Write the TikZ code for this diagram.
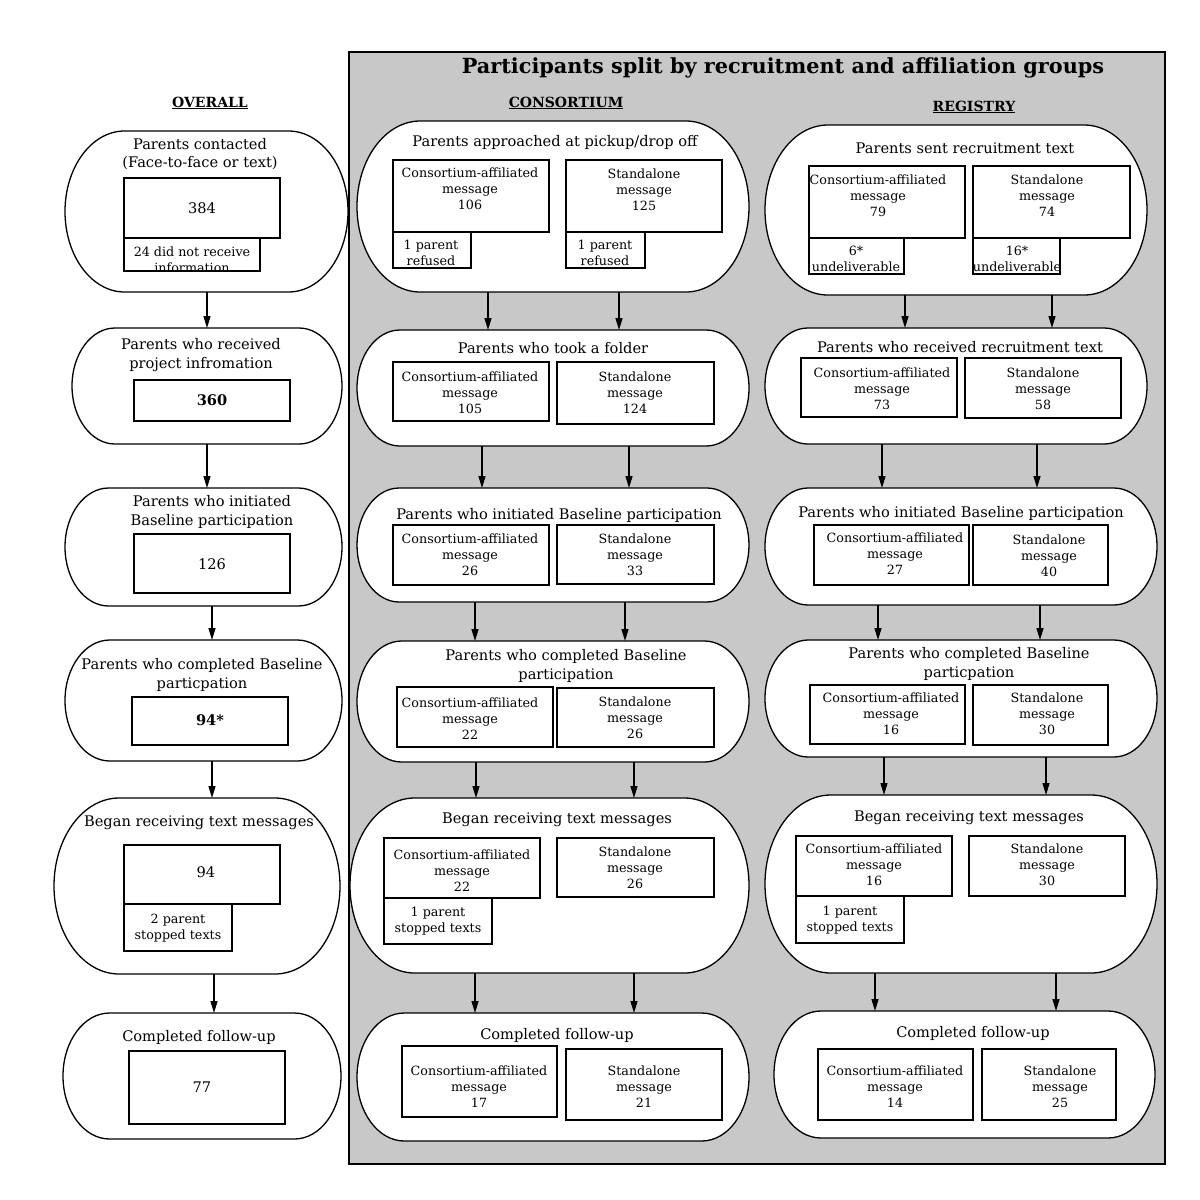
\documentclass[tikz,border=0pt]{standalone}
\usepackage{fontspec}
\setmainfont{DejaVu Serif}
\usetikzlibrary{arrows.meta}
\definecolor{panel}{RGB}{200,200,200}
\tikzset{
 stadline/.style={draw=black,line width=1.3pt,fill=white},
 bxs/.style={draw=black,line width=1.3pt,fill=white,inner sep=0,outer sep=0,rectangle},
 tt/.style={inner sep=0,align=center,font=\fontsize{14.6}{18.5}\selectfont},
 bt/.style={inner sep=0,align=center,font=\fontsize{12.7}{16}\selectfont},
 big/.style={inner sep=0,align=center,font=\fontsize{14.6}{16}\selectfont},
 hd/.style={inner sep=0,font=\bfseries\fontsize{14}{16}\selectfont},
 ttl/.style={inner sep=0,font=\bfseries\fontsize{20.8}{24}\selectfont},
 arr/.style={line width=1.3pt,-{Triangle[length=12pt,width=7pt]}},
}
\newcommand\stad[5]{%
 \node[inner sep=0,outer sep=0,minimum width={(#4-#2)*1pt},minimum height={(#5-#3)*1pt}] (#1) at ({(#2+#4)/2},{(#3+#5)/2}) {};
 \pgfmathsetmacro\rxx{0.37*(#5-#3)}%
 \pgfmathsetmacro\ryy{(#5-#3)/2}%
 \draw[stadline] ([xshift=\rxx pt]#1.north west) -- ([xshift=-\rxx pt]#1.north east)
   arc[start angle=90,end angle=-90,x radius=\rxx pt,y radius=\ryy pt]
   -- ([xshift=\rxx pt]#1.south west)
   arc[start angle=270,end angle=90,x radius=\rxx pt,y radius=\ryy pt] -- cycle;
}
\newcommand\bx[5]{%
 \node[bxs,minimum width={(#4-#2)*1pt},minimum height={(#5-#3)*1pt}] (#1) at ({(#2+#4)/2},{(#3+#5)/2}) {};
}
\begin{document}
\begin{tikzpicture}[x=1pt,y=-1pt]
\useasboundingbox (0,0) rectangle (1200,1200);
\fill[white] (0,0) rectangle (1200,1200);
\draw[fill=panel,line width=1.3pt] (349,52) rectangle (1165,1164);

\node[ttl] (title) at (783,68) {Participants split by recruitment and affiliation groups};
\node[hd] (hov) at (210,103) {\underline{OVERALL}};
\node[hd] (hco) at (566,103) {\underline{CONSORTIUM}};
\node[hd] (hre) at (974,107) {\underline{REGISTRY}};

% ---------- OVERALL ----------
\stad{o1}{65}{131}{348}{292}
\node[tt] (o1t) at (200,154) {Parents contacted\\(Face-to-face or text)};
\bx{o1b}{124}{178}{280}{238}
\node[big] (o1bt) at (202,208) {384};
\bx{o1s}{124}{238}{260}{271}
\begin{scope}
\clip (124,238) rectangle (260,271);
\node[bt] (o1st) at (192,260) {24 did not receive\\information};
\end{scope}

\stad{o2}{72}{328}{342}{444}
\node[tt] (o2t) at (201,355) {Parents who received\\project infromation};
\bx{o2b}{134}{380}{290}{421}
\node[big] (o2bt) at (212,400) {\textbf{360}};

\stad{o3}{65}{488}{342}{606}
\node[tt] (o3t) at (212,512) {Parents who initiated\\Baseline participation};
\bx{o3b}{134}{534}{290}{593}
\node[big] (o3bt) at (212,564) {126};

\stad{o4}{65}{640}{342}{761}
\node[tt] (o4t) at (202,675) {Parents who completed Baseline\\particpation};
\bx{o4b}{132}{697}{288}{745}
\node[big] (o4bt) at (210,720) {\textbf{94*}};

\stad{o5}{54}{798}{340}{974}
\node[tt] (o5t) at (199,823) {Began receiving text messages};
\bx{o5b}{124}{845}{280}{904}
\node[big] (o5bt) at (206,872) {94};
\bx{o5s}{124}{904}{232}{951}
\node[bt] (o5st) at (178,928) {2 parent\\stopped texts};

\stad{o6}{63}{1013}{341}{1139}
\node[tt] (o6t) at (199,1037) {Completed follow-up};
\bx{o6b}{129}{1051}{285}{1124}
\node[big] (o6bt) at (202,1087) {77};

\draw[arr] (o1.south -| 207,0) -- (o2.north -| 207,0);
\draw[arr] (o2.south -| 207,0) -- (o3.north -| 207,0);
\draw[arr] (o3.south -| 212,0) -- (o4.north -| 212,0);
\draw[arr] (o4.south -| 212,0) -- (o5.north -| 212,0);
\draw[arr] (o5.south -| 214,0) -- (o6.north -| 214,0);

% ---------- CONSORTIUM ----------
\stad{c1}{357}{121}{749}{292}
\node[tt] (c1t) at (555,142) {Parents approached at pickup/drop off};
\bx{c1a}{393}{160}{549}{232}
\node[bt] (c1at) at (470,189) {Consortium-affiliated\\message\\106};
\bx{c1b}{566}{160}{722}{232}
\node[bt] (c1bt) at (644,190) {Standalone\\message\\125};
\bx{c1as}{393}{232}{471}{268}
\node[bt] (c1ast) at (431,253) {1 parent\\refused};
\bx{c1bs}{566}{232}{645}{268}
\node[bt] (c1bst) at (605,253) {1 parent\\refused};

\stad{c2}{357}{330}{749}{446}
\node[tt] (c2t) at (553,348) {Parents who took a folder};
\bx{c2a}{393}{362}{549}{421}
\node[bt] (c2at) at (470,393) {Consortium-affiliated\\message\\105};
\bx{c2b}{557}{362}{714}{424}
\node[bt] (c2bt) at (635,393) {Standalone\\message\\124};

\stad{c3}{357}{488}{749}{602}
\node[tt] (c3t) at (559,515) {Parents who initiated Baseline participation};
\bx{c3a}{393}{525}{549}{585}
\node[bt] (c3at) at (470,555) {Consortium-affiliated\\message\\26};
\bx{c3b}{557}{525}{714}{584}
\node[bt] (c3bt) at (635,555) {Standalone\\message\\33};

\stad{c4}{357}{641}{749}{762}
\node[tt] (c4t) at (566,666) {Parents who completed Baseline\\participation};
\bx{c4a}{397}{687}{553}{747}
\node[bt] (c4at) at (470,719) {Consortium-affiliated\\message\\22};
\bx{c4b}{557}{688}{714}{747}
\node[bt] (c4bt) at (635,718) {Standalone\\message\\26};

\stad{c5}{350}{798}{749}{973}
\node[tt] (c5t) at (557,820) {Began receiving text messages};
\bx{c5a}{384}{838}{540}{898}
\node[bt] (c5at) at (462,871) {Consortium-affiliated\\message\\22};
\bx{c5b}{557}{838}{714}{897}
\node[bt] (c5bt) at (635,868) {Standalone\\message\\26};
\bx{c5as}{384}{898}{492}{944}
\node[bt] (c5ast) at (438,921) {1 parent\\stopped texts};

\stad{c6}{357}{1013}{749}{1141}
\node[tt] (c6t) at (557,1035) {Completed follow-up};
\bx{c6a}{402}{1046}{557}{1117}
\node[bt] (c6at) at (479,1087) {Consortium-affiliated\\message\\17};
\bx{c6b}{566}{1049}{722}{1120}
\node[bt] (c6bt) at (644,1087) {Standalone\\message\\21};

\draw[arr] (c1.south -| 488,0) -- (c2.north -| 488,0);
\draw[arr] (c1.south -| 619,0) -- (c2.north -| 619,0);
\draw[arr] (c2.south -| 482,0) -- (c3.north -| 482,0);
\draw[arr] (c2.south -| 629,0) -- (c3.north -| 629,0);
\draw[arr] (c3.south -| 475,0) -- (c4.north -| 475,0);
\draw[arr] (c3.south -| 625,0) -- (c4.north -| 625,0);
\draw[arr] (c4.south -| 476,0) -- (c5.north -| 476,0);
\draw[arr] (c4.south -| 634,0) -- (c5.north -| 634,0);
\draw[arr] (c5.south -| 475,0) -- (c6.north -| 475,0);
\draw[arr] (c5.south -| 634,0) -- (c6.north -| 634,0);

% ---------- REGISTRY ----------
\stad{r1}{765}{125}{1147}{295}
\node[tt] (r1t) at (965,148) {Parents sent recruitment text};
\bx{r1a}{809}{166}{965}{238}
\node[bt] (r1at) at (878,196) {Consortium-affiliated\\message\\79};
\bx{r1b}{973}{166}{1130}{238}
\node[bt] (r1bt) at (1047,196) {Standalone\\message\\74};
\bx{r1as}{809}{238}{904}{274}
\node[bt] (r1ast) at (856,259) {6*\\undeliverable};
\bx{r1bs}{973}{238}{1060}{274}
\node[bt] (r1bst) at (1017,259) {16*\\undeliverable};

\stad{r2}{765}{328}{1147}{444}
\node[tt] (r2t) at (960,347) {Parents who received recruitment text};
\bx{r2a}{801}{358}{957}{417}
\node[bt] (r2at) at (882,389) {Consortium-affiliated\\message\\73};
\bx{r2b}{965}{358}{1121}{418}
\node[bt] (r2bt) at (1043,389) {Standalone\\message\\58};

\stad{r3}{765}{488}{1157}{605}
\node[tt] (r3t) at (961,513) {Parents who initiated Baseline participation};
\bx{r3a}{814}{525}{969}{585}
\node[bt] (r3at) at (895,554) {Consortium-affiliated\\message\\27};
\bx{r3b}{973}{525}{1108}{585}
\node[bt] (r3bt) at (1049,556) {Standalone\\message\\40};

\stad{r4}{765}{640}{1157}{757}
\node[tt] (r4t) at (969,664) {Parents who completed Baseline\\particpation};
\bx{r4a}{810}{685}{965}{744}
\node[bt] (r4at) at (891,714) {Consortium-affiliated\\message\\16};
\bx{r4b}{973}{685}{1108}{745}
\node[bt] (r4bt) at (1047,714) {Standalone\\message\\30};

\stad{r5}{765}{795}{1157}{973}
\node[tt] (r5t) at (969,818) {Began receiving text messages};
\bx{r5a}{796}{836}{952}{896}
\node[bt] (r5at) at (874,865) {Consortium-affiliated\\message\\16};
\bx{r5b}{969}{836}{1125}{896}
\node[bt] (r5bt) at (1047,865) {Standalone\\message\\30};
\bx{r5as}{796}{896}{904}{943}
\node[bt] (r5ast) at (850,920) {1 parent\\stopped texts};

\stad{r6}{774}{1011}{1155}{1138}
\node[tt] (r6t) at (973,1033) {Completed follow-up};
\bx{r6a}{818}{1049}{973}{1120}
\node[bt] (r6at) at (895,1087) {Consortium-affiliated\\message\\14};
\bx{r6b}{982}{1049}{1116}{1120}
\node[bt] (r6bt) at (1060,1087) {Standalone\\message\\25};

\draw[arr] (r1.south -| 905,0) -- (r2.north -| 905,0);
\draw[arr] (r1.south -| 1052,0) -- (r2.north -| 1052,0);
\draw[arr] (r2.south -| 882,0) -- (r3.north -| 882,0);
\draw[arr] (r2.south -| 1037,0) -- (r3.north -| 1037,0);
\draw[arr] (r3.south -| 878,0) -- (r4.north -| 878,0);
\draw[arr] (r3.south -| 1040,0) -- (r4.north -| 1040,0);
\draw[arr] (r4.south -| 884,0) -- (r5.north -| 884,0);
\draw[arr] (r4.south -| 1046,0) -- (r5.north -| 1046,0);
\draw[arr] (r5.south -| 875,0) -- (r6.north -| 875,0);
\draw[arr] (r5.south -| 1056,0) -- (r6.north -| 1056,0);
\end{tikzpicture}
\end{document}
